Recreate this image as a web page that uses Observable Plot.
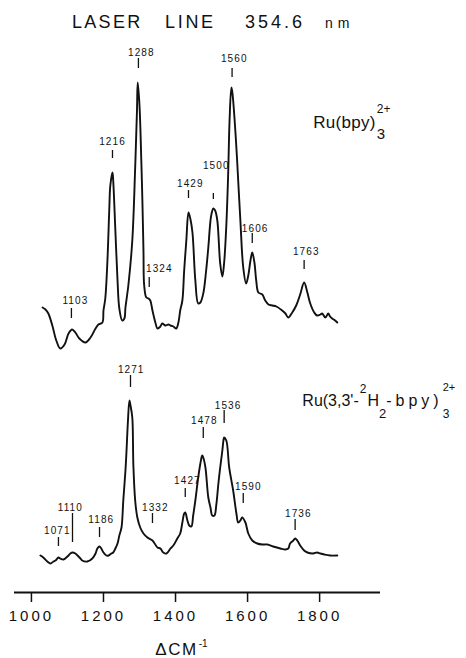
<!DOCTYPE html>
<html>
<head>
<meta charset="utf-8">
<script src="https://cdn.jsdelivr.net/npm/d3@7"></script>
<script src="https://cdn.jsdelivr.net/npm/@observablehq/plot@0.6"></script>
<style>
html, body { margin: 0; padding: 0; background: #fff; }
body { width: 466px; height: 658px; overflow: hidden; font-family: "Liberation Sans", Arial, sans-serif; color: #111; }
#title { position: relative; height: 40px; }
#title span { position: absolute; white-space: pre; font-size: 18px; line-height: 18px; top: 13px; }
#chart svg { display: block; overflow: visible; }
#chart g[aria-label="x-axis tick label"] text { letter-spacing: 3px; }
</style>
</head>
<body>
<div id="title">
  <span style="left:72px;letter-spacing:2.3px">LASER</span>
  <span style="left:165px;letter-spacing:2.7px">LINE</span>
  <span style="left:245px;letter-spacing:3px">354.6</span>
  <span style="left:325px;font-size:14px;line-height:14px;top:16px;letter-spacing:5px">nm</span>
</div>
<div id="chart"></div>
<script>
// ---- Data (wavenumber in cm^-1, intensity in arbitrary units) ----
const xTicks = [1000, 1200, 1400, 1600, 1800];

// Ru(bpy)3 2+ spectrum (upper trace)
const topWavenumber = [1031,1039,1047,1058,1069,1080,1092,1103,1113,1122,
  1133,1150,1164,1178,1186,1197,1200,1205,1211,1216,
  1219,1225,1227,1233,1239,1244,1252,1258,1261,1269,
  1280,1288,1293,1295,1300,1305,1308,1311,1313,1319,
  1325,1330,1336,1344,1350,1358,1363,1372,1380,1386,
  1394,1402,1408,1413,1419,1424,1430,1436,1441,1447,
  1455,1463,1469,1477,1485,1491,1499,1505,1510,1516,
  1524,1530,1535,1541,1546,1550,1555,1557,1560,1566,
  1571,1580,1588,1596,1602,1608,1613,1619,1624,1630,
  1641,1649,1658,1669,1680,1696,1705,1713,1724,1735,
  1746,1757,1766,1774,1785,1793,1802,1807,1816,1824,
  1829,1835,1843,1849];
const topIntensity = [57.0,56.6,55.8,53.4,50.4,48.8,49.6,51.8,52.6,52.0,
  50.8,50.0,51.0,52.8,53.6,54.0,56.4,58.8,66.4,76.4,
  81.4,84.0,82.4,72.4,62.4,56.8,54.4,54.8,57.0,61.4,
  70.4,85.0,96.4,102,97.4,86.4,78.4,68.4,61.4,59.0,
  58.8,58.4,56.4,54.0,52.8,53.2,53.8,53.4,53.6,53.4,
  53.2,52.8,54.0,56.4,58.4,64.4,70.4,76.0,74.8,72.0,
  62.4,57.8,58.0,59.8,64.4,69.0,75.4,76.8,76.4,74.4,
  65.8,63.2,66.0,73.4,83.4,94.4,101,100.4,98.4,92.4,
  86.4,74.4,65.0,61.8,63.4,66.4,68.0,66.0,62.4,60.0,
  59.6,58.4,57.6,57.4,57.2,56.4,55.8,55.0,56.0,57.4,
  59.6,62.0,60.0,57.8,56.0,55.4,55.6,55.8,55.0,55.8,
  55.2,54.8,54.4,54.0];

// Ru(3,3'-2H2-bpy)3 2+ spectrum (lower trace)
const bottomWavenumber = [1025,1033,1044,1053,1061,1067,1075,1080,1089,1100,
  1108,1114,1122,1128,1136,1141,1155,1169,1178,1183,
  1189,1194,1200,1208,1214,1222,1227,1233,1239,1244,
  1250,1255,1261,1264,1268,1272,1275,1280,1283,1288,
  1294,1302,1311,1322,1336,1350,1358,1366,1375,1386,
  1394,1405,1413,1419,1424,1427,1433,1438,1444,1449,
  1455,1463,1469,1474,1477,1483,1491,1497,1502,1508,
  1513,1519,1524,1530,1533,1535,1541,1549,1560,1569,
  1574,1580,1585,1594,1602,1613,1627,1641,1655,1671,
  1691,1705,1713,1718,1727,1732,1738,1746,1757,1766,
  1782,1793,1802,1813,1829,1849];
const bottomIntensity = [7.4,7.0,6.2,5.8,6.2,6.4,7.0,6.8,6.6,7.2,
  7.8,8.0,7.8,7.4,6.8,6.4,6.2,6.8,7.8,8.8,
  9.2,8.8,8.0,7.4,7.4,7.8,8.0,8.8,9.8,11.4,
  13.0,18.4,24.4,28.4,34.4,38.4,37.4,35.0,25.4,18.4,
  15.0,13.0,11.8,11.0,10.4,9.0,8.8,8.0,7.8,8.8,
  9.4,10.8,11.8,14.0,15.8,16.0,14.4,13.4,13.2,15.4,
  18.4,23.0,25.8,27.4,27.0,25.0,19.0,17.0,15.4,15.4,
  17.4,21.8,25.0,28.4,30.4,31.0,30.4,25.0,20.4,15.8,
  14.0,14.4,15.0,14.0,11.8,10.4,9.8,9.6,9.6,9.2,
  8.8,8.6,8.8,9.8,10.4,10.8,10.4,9.4,8.4,8.0,
  7.8,8.0,7.8,7.6,7.4,7.4];

// Peak annotations, upper trace
const topPeakLabels   = ["1103","1216","1288","1324","1429","1500","1560","1606","1763"];
const topPeakTextX    = [1122, 1225, 1305, 1355, 1441, 1513, 1563, 1621, 1763];
const topPeakTextY    = [58.4, 90.2, 108, 64.8, 81.8, 85.4, 106.8, 72.8, 68.2];
const topPeakTickX    = [1111, 1225, 1297, 1327, 1436, 1505, 1557, 1613, 1757];
const topPeakTickTop  = [56.8, 88.4, 106.8, 63.0, 80.4, 79.8, 104.8, 71.8, 66.4];
const topPeakTickBase = [54.8, 86.8, 104.8, 61.0, 78.8, 78.6, 103.0, 69.8, 64.6];

// Peak annotations, lower trace
const bottomPeakLabels   = ["1071","1110","1186","1271","1332","1427","1478","1536","1590","1736"];
const bottomPeakTextX    = [1072, 1108, 1194, 1277, 1344, 1433, 1480, 1546, 1602, 1741];
const bottomPeakTextY    = [12.4, 17.0, 14.6, 44.6, 17.0, 22.4, 34.4, 37.4, 21.2, 15.8];
const bottomPeakTickX    = [1075, 1114, 1189, 1275, 1336, 1427, 1477, 1535, 1588, 1732];
const bottomPeakTickTop  = [11.0, 15.8, 13.0, 43.4, 15.8, 20.8, 33.0, 36.4, 19.8, 14.6];
const bottomPeakTickBase = [9.2, 10.0, 11.0, 41.0, 13.8, 19.0, 30.8, 33.8, 17.8, 12.4];

// Compound names (plain fallback text, then typeset with sub/superscripts)
const compoundNames = ["Ru(bpy)3 2+", "Ru(3,3'-2H2-bpy)3 2+"];
const compoundX = [1782, 1752];
const compoundY = [93, 37.4];
const compoundParts = [
  [["Ru(bpy)", "base"], ["3", "sub"], ["2+", "sup"]],
  [["Ru(3,3'-", "base"], ["2", "sup"], ["H", "base"], ["2", "sub"], ["-bpy)", "base"], ["3", "sub"], ["2+", "sup"]]
];
const xAxisTitle = "\u0394CM-1";
const xAxisTitleParts = [["\u0394CM", "base"], ["-1", "sup"]];
const xAxisTitleX = 1344;

// ---- Build tables ----
const topSpectrum = topWavenumber.map((x, i) => ({x, y: topIntensity[i]}));
const bottomSpectrum = bottomWavenumber.map((x, i) => ({x, y: bottomIntensity[i]}));
const peakText = [
  ...topPeakLabels.map((t, i) => ({t, x: topPeakTextX[i], y: topPeakTextY[i]})),
  ...bottomPeakLabels.map((t, i) => ({t, x: bottomPeakTextX[i], y: bottomPeakTextY[i]}))
];
const peakTicks = [
  ...topPeakLabels.map((t, i) => ({x: topPeakTickX[i], y1: topPeakTickBase[i], y2: topPeakTickTop[i]})),
  ...bottomPeakLabels.map((t, i) => ({x: bottomPeakTickX[i], y1: bottomPeakTickBase[i], y2: bottomPeakTickTop[i]}))
];
const compounds = compoundNames.map((name, i) => ({name, x: compoundX[i], y: compoundY[i]}));

const ink = "#111";
const chart = Plot.plot({
  width: 466,
  height: 618,
  marginLeft: 14,
  marginRight: 86,
  marginTop: 12,
  marginBottom: 66,
  x: {domain: [953, 1969], axis: null},
  y: {domain: [0, 108], axis: null},
  style: {fontFamily: "'Liberation Sans', Arial, sans-serif", fontSize: "10px", color: ink, background: "#fff"},
  marks: [
    Plot.ruleY([0], {stroke: ink, strokeWidth: 2}),
    Plot.axisX({ticks: xTicks, tickSize: 10, tickPadding: 8, fontSize: 15, tickFormat: d => String(d), label: null, stroke: ink, strokeWidth: 1.5}),
    Plot.line(topSpectrum, {x: "x", y: "y", stroke: ink, strokeWidth: 1.9, curve: "catmull-rom"}),
    Plot.line(bottomSpectrum, {x: "x", y: "y", stroke: ink, strokeWidth: 1.9, curve: "catmull-rom"}),
    Plot.ruleX(peakTicks, {x: "x", y1: "y1", y2: "y2", stroke: ink, strokeWidth: 1.3}),
    Plot.text(peakText, {x: "x", y: "y", text: "t", fontSize: 10, fill: ink}),
    Plot.text(compounds, {x: "x", y: "y", text: "name", fontSize: 17, fill: ink, textAnchor: "start", lineAnchor: "bottom"}),
    Plot.text([{t: xAxisTitle, x: xAxisTitleX}], {x: "x", text: "t", frameAnchor: "bottom", dy: 62, lineAnchor: "bottom", textAnchor: "start", fontSize: 17, fill: ink})
  ]
});
document.getElementById("chart").append(chart);

// ---- Sub/superscript typesetting of the labels ----
const compoundStyles = [
  [{size: 17, ls: 0.3, shift: 0}, {size: 15, shift: 11, dx: 1}, {size: 12, shift: -15, stack: true}],
  [{size: 16, ls: 0, shift: 0}, {size: 12, shift: -13, dx: 1}, {size: 16, shift: 0, dx: 1},
   {size: 13, shift: 12}, {size: 16, ls: 4, shift: 0}, {size: 12, shift: 12}, {size: 11, shift: -15, stack: true}]
];
const axisTitleStyle = [{size: 17, ls: 1.5, shift: 0}, {size: 10, shift: -8, dx: 1}];

function applyParts(textEl, parts, styles) {
  textEl.textContent = "";
  let shift = 0, prev = null;
  parts.forEach(([s], i) => {
    const c = styles[i];
    const t = document.createElementNS("http://www.w3.org/2000/svg", "tspan");
    t.textContent = s;
    t.setAttribute("dy", (c.shift || 0) - shift);
    shift = c.shift || 0;
    t.setAttribute("font-size", c.size);
    if (c.ls != null) t.setAttribute("letter-spacing", c.ls);
    textEl.appendChild(t);
    if (c.stack && prev) t.setAttribute("dx", -prev.getComputedTextLength());
    else if (c.dx) t.setAttribute("dx", c.dx);
    prev = t;
  });
}
const peakLabelSet = new Set([...topPeakLabels, ...bottomPeakLabels]);
const root = chart.tagName.toLowerCase() === "svg" ? chart : chart.querySelector("svg");
root.querySelectorAll("text").forEach(el => {
  if (el.closest('g[aria-label="x-axis tick label"]')) return;
  const s = el.textContent;
  const ci = compoundNames.indexOf(s);
  if (ci >= 0) applyParts(el, compoundParts[ci], compoundStyles[ci]);
  else if (s === xAxisTitle) applyParts(el, xAxisTitleParts, axisTitleStyle);
  else if (peakLabelSet.has(s)) el.setAttribute("letter-spacing", "1.1");
});
</script>
</body>
</html>
